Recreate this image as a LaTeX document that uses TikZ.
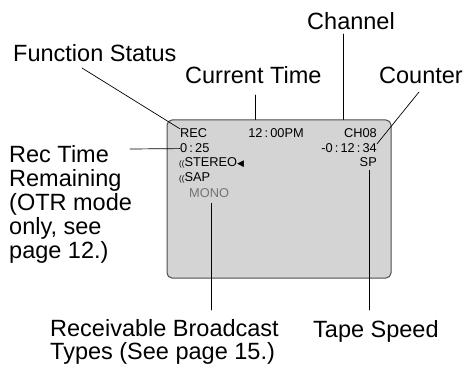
\documentclass[tikz,border=0pt]{standalone}
\usepackage{fontspec}
\setmainfont{Liberation Sans}
\newfontfamily\symfont{DejaVu Sans}

\begin{document}
\begin{tikzpicture}[
    x=1pt,y=-1pt,
    line cap=round,
    line join=round,
    label/.style={inner sep=0pt, font=\fontsize{23.5}{24}\selectfont},
    lcd/.style={inner sep=0pt, font=\fontsize{12.8}{13}\selectfont},
    screen/.style={draw=black!70, line width=1pt, fill=black!17, rounded corners=5pt,
        minimum width=224pt, minimum height=158pt, inner sep=0pt},
    leader/.style={draw=black, line width=0.7pt}
]

\useasboundingbox (0,0) rectangle (468,366);

% the display
\node[screen] (scr) at (279,199) {};

\node[lcd, anchor=base west] (rec) at (180,138) {REC};
\node[lcd, anchor=base] (clock) at (276,138) {12\,:\,00PM};
\node[lcd, anchor=base east] (ch) at (377,138) {CH08};
\node[lcd, anchor=base west] (remain) at (180,153) {0\,:\,25};
\node[lcd, anchor=base east] (ctr) at (377,153) {-0\,:\,12\,:\,34};
\node[lcd, anchor=base west] (stereo) at (179,167) {{\fontsize{8}{8}\selectfont((}STEREO{\symfont\fontsize{9}{9}\selectfont ◀}};
\node[lcd, anchor=base east] (sp) at (377,167) {SP};
\node[lcd, anchor=base west] (sap) at (179,182) {{\fontsize{8}{8}\selectfont((}SAP};
\node[lcd, anchor=base west, text=black!55] (mono) at (189,197) {MONO};

% labels
\node[label, anchor=base] (chan) at (351,30) {Channel};
\node[label, anchor=base west] (fstat) at (13,62) {Function Status};
\node[label, anchor=base west] (ctime) at (185,84) {Current Time};
\node[label, anchor=base] (count) at (421,84) {Counter};
\node[label, anchor=north west, align=left] (rectime) at (9,145) {Rec Time\\Remaining\\(OTR mode\\only, see\\page 12.)};
\node[label, anchor=base west, align=left, font=\fontsize{23.5}{22.5}\selectfont] (recv) at (50,359) {Receivable Broadcast\\Types (See page 15.)};
\node[label, anchor=base west] (tspeed) at (313,337) {Tape Speed};

\coordinate (F1) at (82,68);
\coordinate (T1) at (255,95);
\coordinate (C1) at (343,34);
\coordinate (K1) at (419,92);
\coordinate (R1) at (130,149);
\coordinate (B1) at (0,310);

\draw[leader] (F1) -- (rec.north west);
\draw[leader] (T1) -- (T1 |- scr.north);
\draw[leader] (C1) -- (C1 |- scr.north);
\draw[leader] (K1) -- (ctr.north east);
\draw[leader] (R1) -- (remain.west);
\draw[leader] ([xshift=2pt,yshift=-6pt]mono.south) -- ([xshift=2pt]mono.south |- B1);
\draw[leader] ([xshift=1pt,yshift=-3pt]sp.south) -- ([xshift=1pt]sp.south |- B1);

\end{tikzpicture}
\end{document}
